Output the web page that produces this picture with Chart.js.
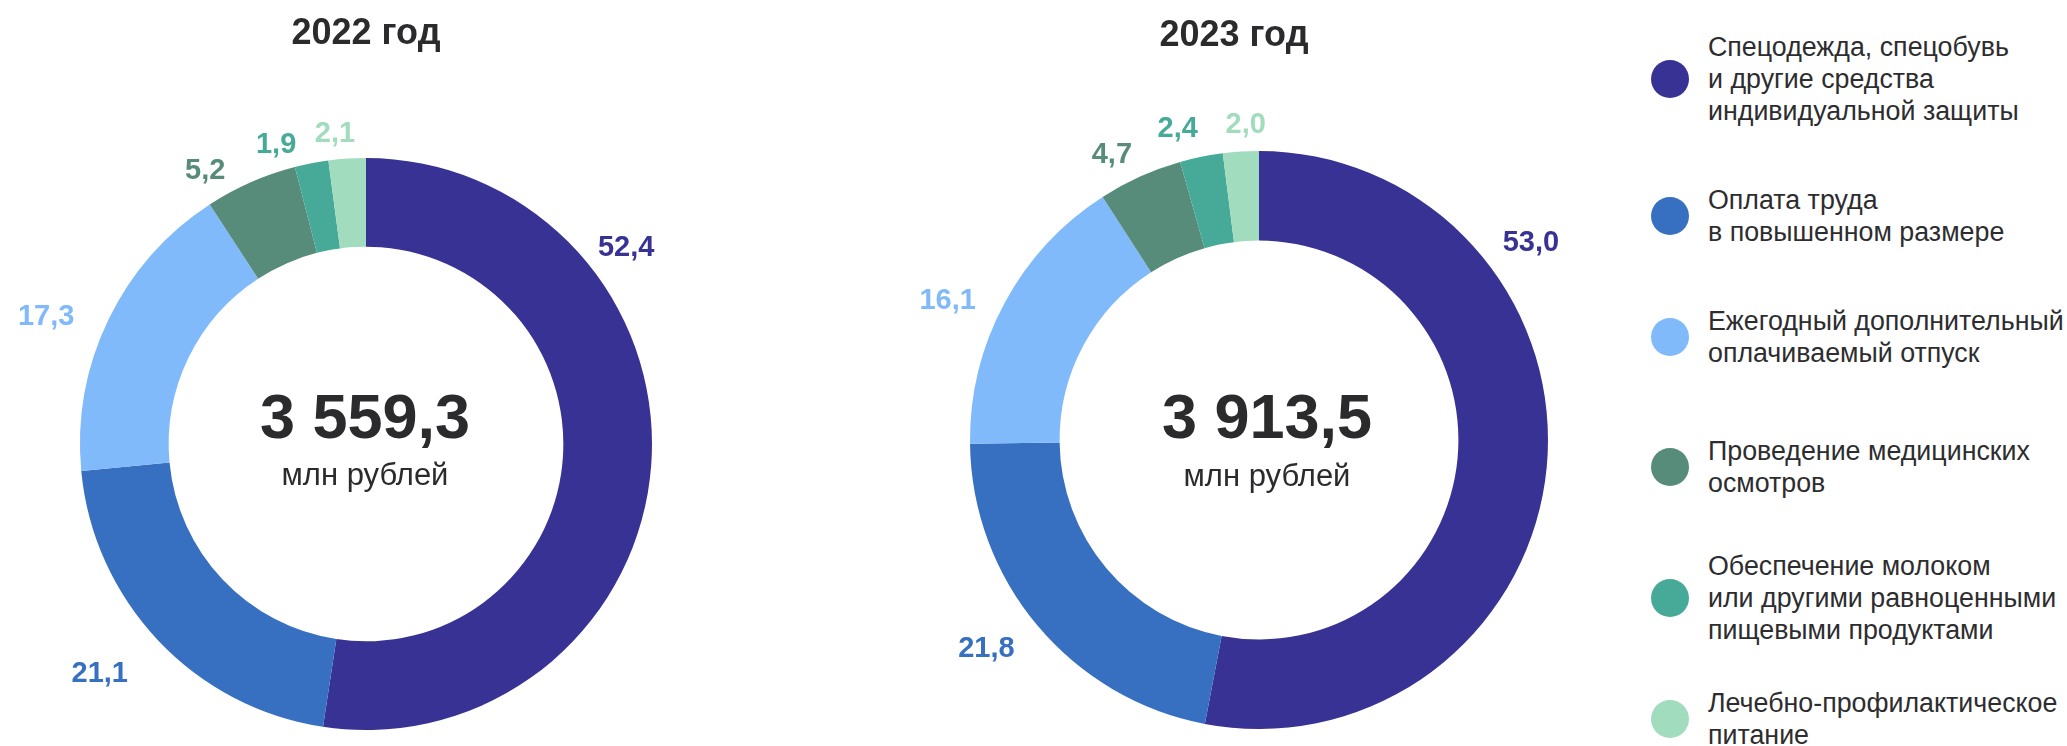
<!DOCTYPE html>
<html lang="ru">
<head>
<meta charset="utf-8">
<script src="https://cdn.jsdelivr.net/npm/chart.js@4.4.1/dist/chart.umd.min.js"></script>
<style>
html,body{margin:0;padding:0;background:#fff;}
body{width:2067px;height:746px;position:relative;overflow:hidden;font-family:"Liberation Sans",Arial,sans-serif;}
canvas{position:absolute;top:0;}
#c1{left:0;}
#c2{left:860px;}
#legend{position:absolute;left:1651px;top:0;}
.item{position:absolute;left:0;display:flex;align-items:center;transform:translateY(-50%);}
.dot{width:38px;height:38px;border-radius:50%;flex:none;}
.txt{margin-left:19px;font-size:26.8px;line-height:32px;color:#2d2d2f;white-space:nowrap;}
</style>
</head>
<body>
<canvas id="c1" width="740" height="746"></canvas>
<canvas id="c2" width="780" height="746"></canvas>
<div id="legend"></div>
<script>
// ---- data ----
const categories = [
  "Спецодежда, спецобувь и другие средства индивидуальной защиты",
  "Оплата труда в повышенном размере",
  "Ежегодный дополнительный оплачиваемый отпуск",
  "Проведение медицинских осмотров",
  "Обеспечение молоком или другими равноценными пищевыми продуктами",
  "Лечебно-профилактическое питание"
];
const legendLines = [
  ["Спецодежда, спецобувь", "и другие средства", "индивидуальной защиты"],
  ["Оплата труда", "в повышенном размере"],
  ["Ежегодный дополнительный", "оплачиваемый отпуск"],
  ["Проведение медицинских", "осмотров"],
  ["Обеспечение молоком", "или другими равноценными", "пищевыми продуктами"],
  ["Лечебно-профилактическое", "питание"]
];
const yearTitles = ["2022 год", "2023 год"];
const values2022 = [52.4, 21.1, 17.3, 5.2, 1.9, 2.1];
const values2023 = [53.0, 21.8, 16.1, 4.7, 2.4, 2.0];
const totals = [3559.3, 3913.5];
const unitLabel = "млн рублей";

// ---- styles ----
const colors = ["#373294", "#376fc1", "#80bafa", "#568c79", "#47aa98", "#a2dcbe"];
const textColor = "#2b2b2e";
const FONT = '"Liberation Sans", Arial, sans-serif';
const legendCenters = [79, 216, 337, 467, 598, 719];

function fmtPct(v){ return v.toFixed(1).replace('.', ','); }
function fmtTotal(v){
  const parts = v.toFixed(1).split('.');
  const int = parts[0].replace(/\B(?=(\d{3})+(?!\d))/g, ' ');
  return int + ',' + parts[1];
}

function makeTextPlugin(cfg){
  return {
    id: 'ringText',
    afterDatasetsDraw(chart){
      const ctx = chart.ctx;
      const arcs = chart.getDatasetMeta(0).data;
      const ds = chart.data.datasets[0];
      const cx = arcs[0].x, cy = arcs[0].y;
      ctx.save();
      ctx.textAlign = 'center';
      ctx.textBaseline = 'alphabetic';
      ctx.font = 'bold ' + cfg.labelSize + 'px ' + FONT;
      arcs.forEach((arc, i) => {
        const p = arc.getProps(['startAngle','endAngle','outerRadius'], true);
        const a = (p.startAngle + p.endAngle) / 2 + cfg.angleShift[i] * Math.PI / 180;
        const d = p.outerRadius + cfg.gap[i];
        const x = cx + d * Math.cos(a);
        const y = cy + d * Math.sin(a);
        ctx.fillStyle = ds.backgroundColor[i];
        ctx.fillText(fmtPct(ds.data[i]), x, y + 0.36 * cfg.labelSize);
      });
      ctx.fillStyle = textColor;
      ctx.font = 'bold 36px ' + FONT;
      ctx.fillText(cfg.title, cx + cfg.titleDx, cfg.titleY);
      ctx.font = 'bold 63px ' + FONT;
      ctx.fillText(cfg.total, cx + cfg.centerDx, cy + cfg.totalDy);
      ctx.font = '31px ' + FONT;
      ctx.fillText(unitLabel, cx + cfg.centerDx, cy + cfg.unitDy);
      ctx.restore();
    }
  };
}

function makeChart(id, values, padding, cfg){
  return new Chart(document.getElementById(id), {
    type: 'doughnut',
    data: {
      labels: categories,
      datasets: [{
        data: values,
        backgroundColor: colors,
        borderWidth: 0,
        hoverOffset: 0
      }]
    },
    options: {
      responsive: false,
      animation: false,
      events: [],
      cutout: '69%',
      layout: { padding: padding },
      plugins: { legend: { display: false }, tooltip: { enabled: false }, title: { display: false } }
    },
    plugins: [makeTextPlugin(cfg)]
  });
}

Chart.defaults.font.family = FONT;

makeChart('c1', values2022, {left: 80, right: 88, top: 158, bottom: 16}, {
  title: yearTitles[0], total: fmtTotal(totals[0]), labelSize: 29,
  angleShift: [-41.6, 2.9, -3.7, -6.5, -5.6, -1.9],
  gap: [41, 64, 59, 33, 29, 28],
  titleDx: 0, titleY: 44, centerDx: -1, totalDy: -6, unitDy: 41
});
makeChart('c2', values2023, {left: 110, right: 92, top: 151, bottom: 17}, {
  title: yearTitles[1], total: fmtTotal(totals[1]), labelSize: 29,
  angleShift: [-41.6, 2.8, -3.8, -2.8, -3, 1.2],
  gap: [48, 53, 53, 34, 35, 29],
  titleDx: -25, titleY: 46, centerDx: 8, totalDy: -2, unitDy: 46
});

// ---- legend ----
const legendEl = document.getElementById('legend');
legendLines.forEach((lines, i) => {
  const item = document.createElement('div');
  item.className = 'item';
  item.style.top = legendCenters[i] + 'px';
  const dot = document.createElement('div');
  dot.className = 'dot';
  dot.style.background = colors[i];
  const txt = document.createElement('div');
  txt.className = 'txt';
  txt.innerHTML = lines.join('<br>');
  item.appendChild(dot);
  item.appendChild(txt);
  legendEl.appendChild(item);
});
</script>
</body>
</html>
